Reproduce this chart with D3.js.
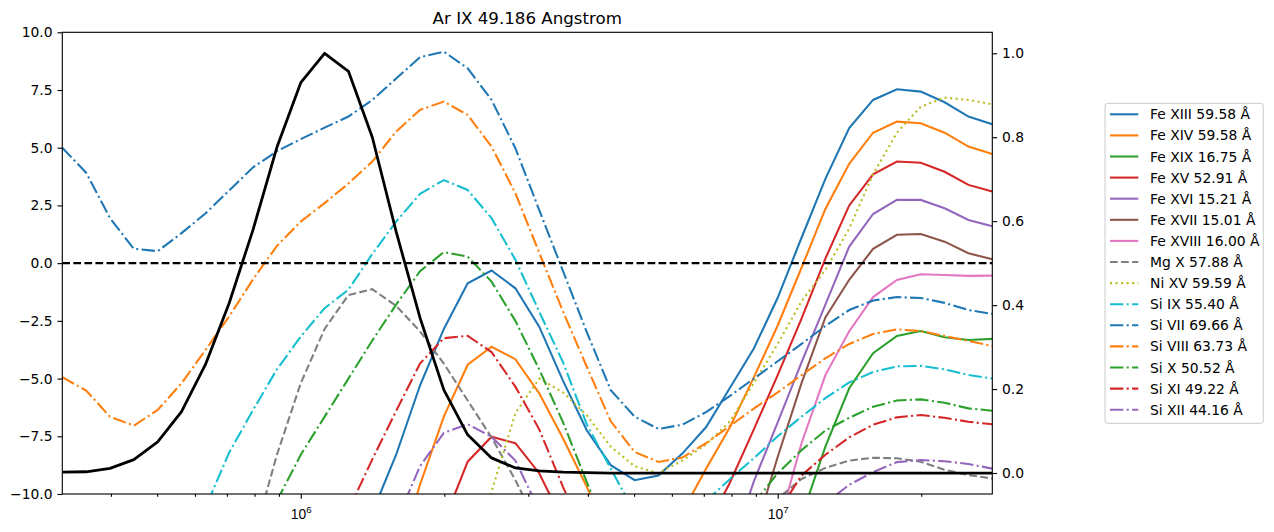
<!DOCTYPE html>
<html>
<head>
<meta charset="utf-8">
<script src="https://cdn.jsdelivr.net/npm/d3@7"></script>
<style>
  body { margin: 0; background: #fff; }
  svg { font-family: "DejaVu Sans", sans-serif; }
</style>
</head>
<body>
<svg id="chart" width="1274" height="532"></svg>
<script>
// log10 temperature grid
const logT = [5.5, 5.55, 5.6, 5.65, 5.7, 5.75, 5.8, 5.85, 5.9, 5.95,
  6.0, 6.05, 6.1, 6.15, 6.2, 6.25, 6.3, 6.35, 6.4, 6.45,
  6.5, 6.55, 6.6, 6.65, 6.7, 6.75, 6.8, 6.85, 6.9, 6.95,
  7.0, 7.05, 7.1, 7.15, 7.2, 7.25, 7.3, 7.35, 7.4, 7.45];

// normalised contribution function of Ar IX (right axis)
const contribution = [0.002, 0.003, 0.011, 0.032, 0.074, 0.146, 0.258, 0.405, 0.58, 0.776,
  0.93, 1.0, 0.957, 0.80, 0.575, 0.37, 0.198, 0.091, 0.036, 0.012,
  0.005, 0.002, 0.001, 0, 0, 0, 0, 0, 0, 0,
  0, 0, 0, 0, 0, 0, 0, 0, 0, 0];

const labels = ['Fe XIII 59.58 Å', 'Fe XIV 59.58 Å', 'Fe XIX 16.75 Å', 'Fe XV 52.91 Å',
  'Fe XVI 15.21 Å', 'Fe XVII 15.01 Å', 'Fe XVIII 16.00 Å', 'Mg X 57.88 Å', 'Ni XV 59.59 Å',
  'Si IX 55.40 Å', 'Si VII 69.66 Å', 'Si VIII 63.73 Å', 'Si X 50.52 Å', 'Si XI 49.22 Å', 'Si XII 44.16 Å'];

const _ = null;
const feXIII = [_, _, _, _, _, _, _, _, _, _,
  _, _, -13.5, -10.8, -8.3, -5.3, -2.85, -0.87, -0.32, -1.09,
  -2.75, -5.1, -7.25, -8.75, -9.4, -9.2, -8.25, -7.1, -5.4, -3.7,
  -1.5, 1.1, 3.65, 5.85, 7.07, 7.53, 7.43, 6.97, 6.35, 6.02];
const feXIV = [_, _, _, _, _, _, _, _, _, _,
  _, _, _, _, -13, -9.6, -6.65, -4.4, -3.62, -4.16,
  -5.64, -7.6, -9.7, -12, _, _, -10.8, -8.9, -7.1, -4.95,
  -2.7, -0.2, 2.35, 4.3, 5.65, 6.13, 6.06, 5.65, 5.05, 4.73];
const feXIX = [_, _, _, _, _, _, _, _, _, _,
  _, _, _, _, _, _, _, _, _, _,
  _, _, _, _, _, _, _, _, _, _,
  _, -11, -7.95, -5.42, -3.9, -3.15, -2.94, -3.21, -3.33, -3.28];
const feXV = [_, _, _, _, _, _, _, _, _, _,
  _, _, _, _, _, -13.5, -11.2, -8.6, -7.52, -7.8,
  -9.1, -11.2, _, _, _, _, _, -11.5, -9.5, -7.2,
  -4.85, -2.4, 0.2, 2.5, 3.85, 4.4, 4.35, 3.96, 3.39, 3.1];
const feXVI = [_, _, _, _, _, _, _, _, _, _,
  _, _, _, _, _, _, _, _, _, _,
  _, _, _, _, _, _, _, _, -12.5, -9.45,
  -6.9, -4.3, -1.8, 0.72, 2.13, 2.74, 2.74, 2.38, 1.87, 1.6];
const feXVII = [_, _, _, _, _, _, _, _, _, _,
  _, _, _, _, _, _, _, _, _, _,
  _, _, _, _, _, _, _, _, _, -11.8,
  -8.4, -5.2, -2.35, -0.72, 0.62, 1.23, 1.26, 0.93, 0.43, 0.17];
const feXVIII = [_, _, _, _, _, _, _, _, _, _,
  _, _, _, _, _, _, _, _, _, _,
  _, _, _, _, _, _, _, _, _, _,
  -11.5, -7.8, -4.85, -2.95, -1.47, -0.73, -0.48, -0.51, -0.55, -0.54];
const mgX = [_, _, _, _, _, _, _, _, -12, -8.3,
  -5.2, -2.85, -1.38, -1.13, -1.85, -2.95, -4.35, -5.95, -7.55, -9.4,
  -11.5, _, _, _, _, _, _, _, _, -11.5,
  -10.2, -9.35, -8.87, -8.55, -8.43, -8.45, -8.6, -8.95, -9.18, -9.33];
const niXV = [_, _, _, _, _, _, _, _, _, _,
  _, _, _, _, _, _, _, -13, -9.9, -6.5,
  -5.0, -5.6, -6.6, -7.95, -8.8, -9.1, -8.55, -7.85, -6.85, -5.2,
  -3.5, -1.65, -0.3, 1.5, 3.85, 5.65, 6.78, 7.17, 7.07, 6.88];
const siIX = [_, _, _, _, _, -13, -10.6, -8.2, -6.36, -4.6,
  -3.18, -1.95, -1.15, 0.4, 1.8, 3.0, 3.6, 3.17, 1.95, 0.15,
  -2.1, -4.3, -7.0, -8.9, -10.8, _, _, -10.3, -9.35, -8.45,
  -7.5, -6.65, -5.85, -5.17, -4.72, -4.47, -4.45, -4.6, -4.84, -5.0];
const siVII = [5.0, 3.92, 1.95, 0.62, 0.52, 1.3, 2.15, 3.15, 4.15, 4.85,
  5.37, 5.87, 6.35, 7.07, 8.0, 8.92, 9.16, 8.44, 7.07, 4.98,
  2.3, -0.35, -3.0, -5.5, -6.65, -7.18, -7.0, -6.45, -5.75, -5.0,
  -4.25, -3.5, -2.72, -2.03, -1.62, -1.47, -1.51, -1.72, -2.03, -2.2];
const siVIII = [-4.94, -5.52, -6.65, -7.04, -6.36, -5.2, -3.77, -2.3, -0.7, 0.75,
  1.8, 2.6, 3.45, 4.4, 5.7, 6.64, 7.0, 6.42, 5.05, 3.03,
  0.45, -2.1, -4.5, -6.85, -8.18, -8.61, -8.42, -7.8, -7.05, -6.3,
  -5.6, -4.85, -4.12, -3.5, -3.07, -2.87, -2.94, -3.15, -3.37, -3.59];
const siX = [_, _, _, _, _, _, _, _, _, -10.3,
  -8.3, -6.65, -5.0, -3.35, -1.8, -0.35, 0.48, 0.28, -0.8, -2.5,
  -4.6, -6.9, -9.5, -12, _, _, _, _, _, -10.4,
  -9.1, -8.1, -7.25, -6.7, -6.22, -5.95, -5.9, -6.05, -6.29, -6.39];
const siXI = [_, _, _, _, _, _, _, _, _, _,
  _, _, -10.7, -8.5, -6.4, -4.35, -3.25, -3.15, -3.85, -5.35,
  -7.2, -9.7, -12, _, _, _, _, _, _, _,
  -10.8, -9.2, -8.3, -7.55, -7.0, -6.68, -6.58, -6.7, -6.87, -6.98];
const siXII = [_, _, _, _, _, _, _, _, _, _,
  _, _, _, _, -11.2, -8.8, -7.35, -6.98, -7.52, -8.55,
  -10.7, _, _, _, _, _, _, _, _, _,
  _, -11.2, -10.4, -9.6, -9.05, -8.62, -8.53, -8.58, -8.7, -8.9];

const leftTicks = [-10, -7.5, -5, -2.5, 0, 2.5, 5, 7.5, 10];
const rightTicks = [0, 0.2, 0.4, 0.6, 0.8, 1.0];
const majorX = [1e6, 1e7];
const minorX = [4e5, 5e5, 6e5, 7e5, 8e5, 9e5, 2e6, 3e6, 4e6, 5e6, 6e6, 7e6, 8e6, 9e6, 2e7];

// ---- styles (matplotlib defaults at 100 dpi) ----
const pt = 100 / 72;
const dashed = [3.7 * 1.5 * pt, 1.6 * 1.5 * pt].join(',');
const dotted = [1 * 1.5 * pt, 1.65 * 1.5 * pt].join(',');
const dashdot = [6.4 * 1.5 * pt, 1.6 * 1.5 * pt, 1 * 1.5 * pt, 1.6 * 1.5 * pt].join(',');
const seriesValues = [feXIII, feXIV, feXIX, feXV, feXVI, feXVII, feXVIII, mgX, niXV,
  siIX, siVII, siVIII, siX, siXI, siXII];
const colours = ['#1f77b4', '#ff7f0e', '#2ca02c', '#d62728', '#9467bd', '#8c564b', '#e377c2',
  '#7f7f7f', '#bcbd22', '#17becf', '#1f77b4', '#ff7f0e', '#2ca02c', '#d62728', '#9467bd'];
const dashes = [null, null, null, null, null, null, null, dashed, dotted,
  dashdot, dashdot, dashdot, dashdot, dashdot, dashdot];

const series = labels.map((name, i) => ({
  name, values: seriesValues[i], colour: colours[i], dash: dashes[i]
}));

const svg = d3.select('#chart');
const fontSize = 10 * pt;
const plot = { left: 62.3, right: 992.3, top: 32.3, bottom: 494 };

const x = d3.scaleLog().domain([Math.pow(10, 5.5), Math.pow(10, 7.45)]).range([plot.left, plot.right]);
const y = d3.scaleLinear().domain([-10, 10]).range([plot.bottom, plot.top]);
const y2 = d3.scaleLinear().domain([-0.05, 1.05]).range([plot.bottom, plot.top]);

svg.append('defs').append('clipPath').attr('id', 'clip')
  .append('rect')
    .attr('x', plot.left).attr('y', plot.top)
    .attr('width', plot.right - plot.left).attr('height', plot.bottom - plot.top);

const lineGen = d3.line()
  .defined(d => d[1] !== null)
  .x(d => x(Math.pow(10, d[0])))
  .y(d => y(d[1]));

const marks = svg.append('g').attr('clip-path', 'url(#clip)');

marks.selectAll('path.series').data(series).join('path')
    .attr('class', 'series')
    .attr('d', s => lineGen(logT.map((t, i) => [t, s.values[i]])))
    .attr('fill', 'none')
    .attr('stroke', s => s.colour)
    .attr('stroke-width', 1.5 * pt)
    .attr('stroke-dasharray', s => s.dash);

// zero reference line
marks.append('line')
    .attr('x1', plot.left).attr('x2', plot.right)
    .attr('y1', y(0)).attr('y2', y(0))
    .attr('stroke', 'black')
    .attr('stroke-width', 1.5 * pt)
    .attr('stroke-dasharray', dashed);

// contribution function on twin axis
const line2 = d3.line()
  .x((d, i) => x(Math.pow(10, logT[i])))
  .y(d => y2(d));
marks.append('path')
    .attr('d', line2(contribution))
    .attr('fill', 'none')
    .attr('stroke', 'black')
    .attr('stroke-width', 2 * pt)
    .attr('stroke-linejoin', 'round');

// ---- axes ----
const major = 3.5 * pt, minor = 2 * pt, pad = 3.5 * pt;

const styleAxis = g => {
  g.select('.domain').remove();
  g.selectAll('line').attr('stroke', 'black').attr('stroke-width', 0.8 * pt);
  g.selectAll('text').attr('fill', 'black').style('font-size', fontSize + 'px')
    .style('font-family', '"DejaVu Sans", sans-serif');
};

svg.append('g')
    .attr('transform', `translate(${plot.left},0)`)
    .call(d3.axisLeft(y).tickValues(leftTicks).tickFormat(d3.format('.1f'))
      .tickSize(major).tickPadding(pad))
    .call(styleAxis);

svg.append('g')
    .attr('transform', `translate(${plot.right},0)`)
    .call(d3.axisRight(y2).tickValues(rightTicks).tickFormat(d3.format('.1f'))
      .tickSize(major).tickPadding(pad))
    .call(styleAxis);

svg.append('g')
    .attr('transform', `translate(0,${plot.bottom})`)
    .call(d3.axisBottom(x).tickValues(minorX).tickFormat('').tickSize(minor))
    .call(styleAxis);

const xMajor = svg.append('g')
    .attr('transform', `translate(0,${plot.bottom})`)
    .call(d3.axisBottom(x).tickValues(majorX).tickFormat('').tickSize(major))
    .call(styleAxis);

xMajor.selectAll('.tick').append('text')
    .attr('y', 24.5)
    .attr('text-anchor', 'middle')
    .attr('fill', 'black')
    .style('font-size', fontSize + 'px')
    .each(function(d) {
      const t = d3.select(this);
      t.append('tspan').text('10');
      t.append('tspan')
        .attr('dy', -6)
        .style('font-size', (fontSize * 0.7) + 'px')
        .text(Math.round(Math.log10(d)));
    });

// frame
svg.append('rect')
    .attr('x', plot.left).attr('y', plot.top)
    .attr('width', plot.right - plot.left).attr('height', plot.bottom - plot.top)
    .attr('fill', 'none')
    .attr('stroke', 'black')
    .attr('stroke-width', 0.8 * pt);

// title
svg.append('text')
    .attr('x', (plot.left + plot.right) / 2)
    .attr('y', 24)
    .attr('text-anchor', 'middle')
    .style('font-size', (12 * pt) + 'px')
    .text('Ar IX 49.186 Angstrom');

// ---- legend ----
const legend = svg.append('g').attr('transform', 'translate(1105,103.3)');
legend.append('rect')
    .attr('width', 158.3).attr('height', 320)
    .attr('rx', 2.8)
    .attr('fill', 'white').attr('fill-opacity', 0.8)
    .attr('stroke', '#cccccc').attr('stroke-width', 1);

const rows = legend.selectAll('g.row').data(series).join('g')
    .attr('class', 'row')
    .attr('transform', (d, i) => `translate(0,${11 + i * 21.1})`);
rows.append('line')
    .attr('x1', 5).attr('x2', 33.3)
    .attr('stroke', d => d.colour)
    .attr('stroke-width', 1.5 * pt)
    .attr('stroke-dasharray', d => d.dash);
rows.append('text')
    .attr('x', 45)
    .attr('dy', '0.36em')
    .style('font-size', fontSize + 'px')
    .text(d => d.name);
</script>
</body>
</html>
